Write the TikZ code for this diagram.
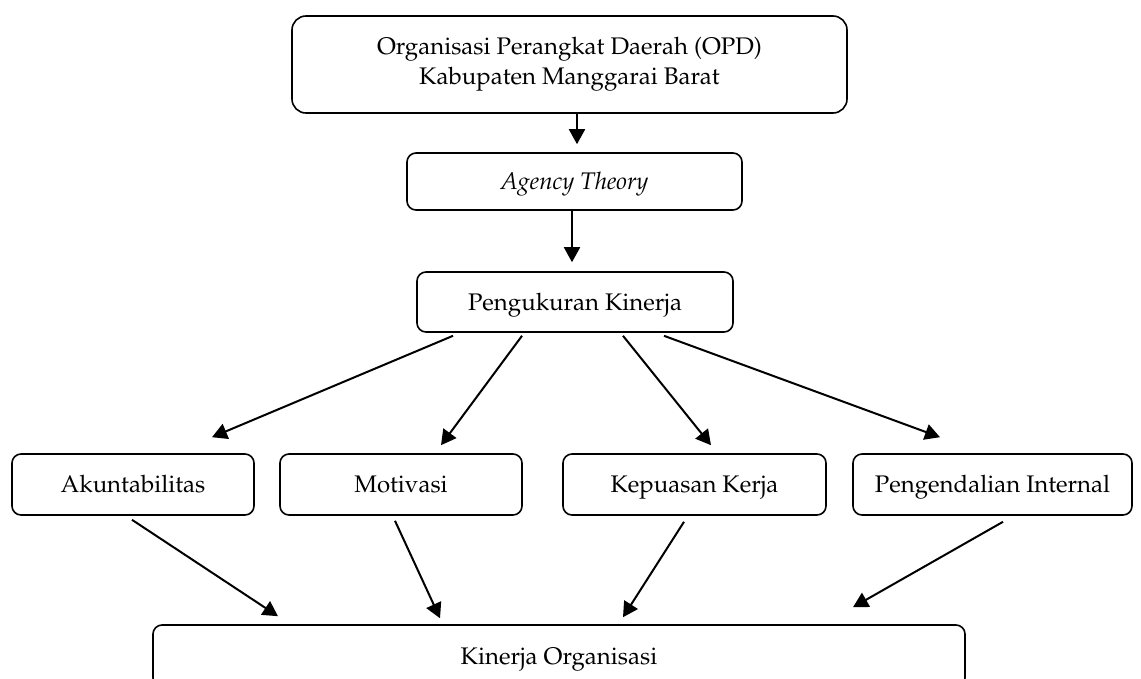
\documentclass[tikz,border=0pt]{standalone}
\usepackage[T1]{fontenc}
\usepackage{mathpazo}
\usetikzlibrary{arrows.meta}

\tikzset{
	boite/.style={draw,rounded corners=9pt,line width=1.6pt,inner sep=0pt,align=center,font=\fontsize{24}{30}\selectfont},
	ligne/.style={boite,text height=20pt,text depth=4pt},
	fleche/.style={-{Triangle[length=15pt,width=16pt]},line width=2pt}
}

\begin{document}
\begin{tikzpicture}[x=1pt,y=-1pt]
			\useasboundingbox (0,0) rectangle (1141,678);
			\node[boite,minimum width=555pt,minimum height=97pt,rounded corners=14pt] (opd) at (569.5,64.5) {Organisasi Perangkat Daerah (OPD)\\Kabupaten Manggarai Barat};
			\node[ligne,minimum width=335pt,minimum height=57pt] (ag) at (574.5,181.5) {\textit{Agency Theory}};
			\node[ligne,minimum width=316pt,minimum height=60pt] (pk) at (575,302) {Pengukuran Kinerja};
			\node[ligne,minimum width=242pt,minimum height=61pt] (ak) at (133,484.5) {Akuntabilitas};
			\node[ligne,minimum width=242pt,minimum height=61pt] (mo) at (401,484.5) {Motivasi};
			\node[ligne,minimum width=263pt,minimum height=61pt] (kk) at (694.5,484.5) {Kepuasan Kerja};
			\node[ligne,minimum width=279pt,minimum height=61pt] (pi) at (992.5,484.5) {Pengendalian Internal};
			\node[ligne,minimum width=812pt,minimum height=62pt] (ko) at (559,656) {Kinerja Organisasi};
			\draw[fleche]([xshift=7.5pt]opd.south)--([xshift=2.5pt,yshift=8pt]ag.north);
			\draw[fleche]([xshift=-2.5pt]ag.south)--([xshift=-3pt,yshift=9pt]pk.north);
			\draw[fleche]([xshift=-122pt,yshift=-3pt]pk.south)--([xshift=79pt,yshift=16pt]ak.north);
			\draw[fleche]([xshift=-53pt,yshift=-3pt]pk.south)--([xshift=40pt,yshift=8pt]mo.north);
			\draw[fleche]([xshift=48pt,yshift=-3pt]pk.south)--([xshift=16.5pt,yshift=8pt]kk.north);
			\draw[fleche]([xshift=89pt,yshift=-3pt]pk.south)--([xshift=-52.5pt,yshift=16pt]pi.north);
			\draw[fleche]([xshift=-1pt,yshift=-4pt]ak.south)--([xshift=-281pt,yshift=8pt]ko.north);
			\draw[fleche]([xshift=-6pt,yshift=-5pt]mo.south)--([xshift=-119pt,yshift=6pt]ko.north);
			\draw[fleche]([xshift=-10.5pt,yshift=-6pt]kk.south)--([xshift=64pt,yshift=7pt]ko.north);
			\draw[fleche]([xshift=10.5pt,yshift=-6pt]pi.south)--([xshift=294pt,yshift=17pt]ko.north);
\end{tikzpicture}
\end{document}
